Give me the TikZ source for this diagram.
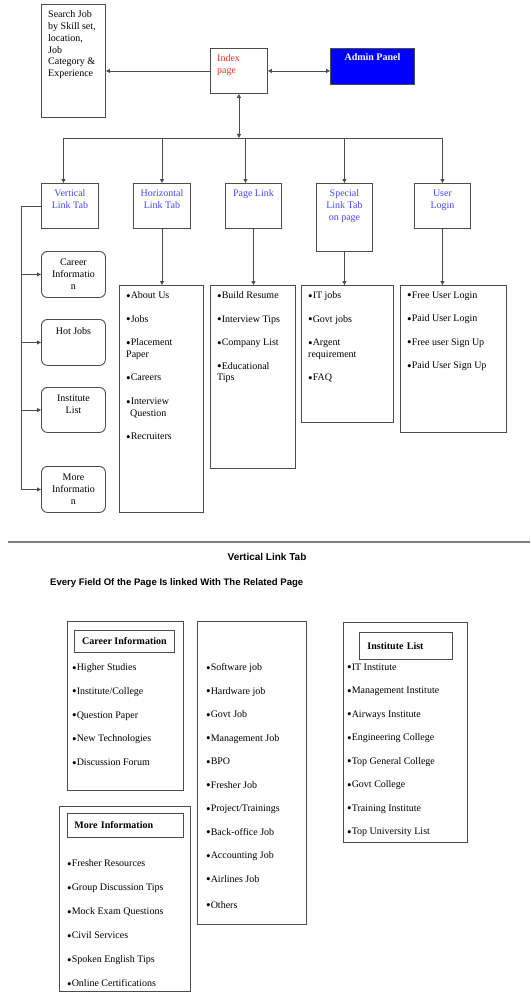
\documentclass[tikz,border=0pt]{standalone}
\usepackage{fontspec}
\setmainfont{Liberation Serif}
\setsansfont{Liberation Sans}
\usetikzlibrary{arrows.meta,positioning,calc}
\definecolor{linkblue}{RGB}{70,70,255}
\definecolor{indexred}{RGB}{255,40,40}
\definecolor{adminblue}{RGB}{0,0,255}
\definecolor{rulegray}{RGB}{128,128,128}
\newcommand{\itemgap}{11.7pt}
\newcommand{\bul}{\raisebox{-1.6pt}{\fontsize{13}{11.8}\selectfont\textbullet}}

\begin{document}
\begin{tikzpicture}[x=1pt, y=-1pt,
  box/.style={rectangle, draw=black!70, line width=0.9pt, anchor=north west, inner sep=0pt},
  rbox/.style={box, rounded corners=6pt},
  txt/.style={inner sep=0pt, anchor=north west, align=left, font=\fontsize{10}{11.8}\selectfont},
  ctxt/.style={txt, anchor=north, align=center},
  link/.style={ctxt, text=linkblue},
  head/.style={box, font=\fontsize{10}{11.8}\selectfont\bfseries},
  conn/.style={draw=black!70, line width=0.8pt},
  arr/.style={conn, -{Triangle[length=4pt,width=4pt]}},
  darr/.style={conn, {Triangle[length=4pt,width=4pt]}-{Triangle[length=4pt,width=4pt]}},
]
\useasboundingbox (0,0) rectangle (530,1006);

% top level
\node[box, minimum width=64pt, minimum height=113pt] (search) at (41,4) {};
\node[txt] (search-t) at ([shift={(7,6.5)}]search.north west) {Search Job\\by Skill set,\\location,\\Job\\Category \&\\Experience};
\node[box, minimum width=57pt, minimum height=45pt] (index) at (210,48) {};
\node[txt, text=indexred] (index-t) at ([shift={(7,6.5)}]index.north west) {Index\\page};
\node[box, fill=adminblue, minimum width=84pt, minimum height=36pt] (admin) at (330,48) {};
\node[ctxt, text=white, font=\fontsize{10}{11.8}\selectfont\bfseries] (admin-t) at ([shift={(0,5.5)}]admin.north) {Admin Panel};

% link tabs
\node[box, minimum width=57pt, minimum height=45pt] (vlt) at (41,183) {};
\node[link] (vlt-t) at ([shift={(0,6.5)}]vlt.north) {Vertical\\Link Tab};
\node[box, minimum width=57pt, minimum height=45pt] (hlt) at (133,183) {};
\node[link] (hlt-t) at ([shift={(0,6.5)}]hlt.north) {Horizontal\\Link Tab};
\node[box, minimum width=56pt, minimum height=45pt] (plt) at (225,183) {};
\node[link] (plt-t) at ([shift={(0,6.5)}]plt.north) {Page Link};
\node[box, minimum width=56pt, minimum height=68pt] (slt) at (316,183) {};
\node[link] (slt-t) at ([shift={(0,6.5)}]slt.north) {Special\\Link Tab\\on page};
\node[box, minimum width=56pt, minimum height=45pt] (ult) at (414,183) {};
\node[link] (ult-t) at ([shift={(0,6.5)}]ult.north) {User\\Login};

% vertical tab pages
\node[rbox, minimum width=64pt, minimum height=46pt] (career) at (41,251) {};
\node[ctxt] (career-t) at ([shift={(0,8)}]career.north) {Career\\Informatio\\n};
\node[rbox, minimum width=64pt, minimum height=46pt] (hot) at (41,319) {};
\node[ctxt] (hot-t) at ([shift={(0,8)}]hot.north) {Hot Jobs};
\node[rbox, minimum width=64pt, minimum height=45pt] (inst) at (41,387) {};
\node[ctxt] (inst-t) at ([shift={(0,8)}]inst.north) {Institute\\List};
\node[rbox, minimum width=64pt, minimum height=46pt] (more) at (41,466) {};
\node[ctxt] (more-t) at ([shift={(0,8)}]more.north) {More\\Informatio\\n};

% item lists
\node[box, minimum width=84pt, minimum height=227pt] (hlist) at (119,285) {};
\node[txt] (hlist-t) at ([shift={(7,6.5)}]hlist.north west) {\bul About Us\\[\itemgap]\bul Jobs\\[\itemgap]\bul Placement\\Paper\\[\itemgap]\bul Careers\\[\itemgap]\bul Interview\\\hspace{4pt}Question\\[\itemgap]\bul Recruiters};
\node[box, minimum width=85pt, minimum height=183pt] (plist) at (210,285) {};
\node[txt] (plist-t) at ([shift={(7,6.5)}]plist.north west) {\bul Build Resume\\[\itemgap]\bul Interview Tips\\[\itemgap]\bul Company List\\[\itemgap]\bul Educational\\Tips};
\node[box, minimum width=92pt, minimum height=137pt] (slist) at (301,285) {};
\node[txt] (slist-t) at ([shift={(7,6.5)}]slist.north west) {\bul IT jobs\\[\itemgap]\bul Govt jobs\\[\itemgap]\bul Argent\\requirement\\[\itemgap]\bul FAQ};
\node[box, minimum width=106pt, minimum height=147pt] (ulist) at (400,285) {};
\node[txt] (ulist-t) at ([shift={(7,6.5)}]ulist.north west) {\bul Free User Login\\[\itemgap]\bul Paid User Login\\[\itemgap]\bul Free user Sign Up\\[\itemgap]\bul Paid User Sign Up};

% connectors
\draw[arr] (index.west) -- (index.west -| search.east);
\draw[darr] (index.east) -- (index.east -| admin.west);
\coordinate (hub) at (index.south |- 0,138);
\coordinate (vin) at ([xshift=-6.5pt]vlt.north);
\coordinate (pin) at ([xshift=-8pt]plt.north);
\draw[darr] (index.south) -- (hub);
\draw[conn] (hub -| vin) -- (hub -| ult.north);
\draw[arr] (hub -| vin) -- (vin);
\draw[arr] (hub -| hlt.north) -- (hlt.north);
\draw[arr] (hub -| pin) -- (pin);
\draw[arr] (hub -| slt.north) -- (slt.north);
\draw[arr] (hub -| ult.north) -- (ult.north);

\draw[arr] (hlt.south) -- (hlt.south |- hlist.north);
\draw[arr] (plt.south) -- (plt.south |- plist.north);
\draw[arr] (slt.south) -- (slt.south |- slist.north);
\draw[arr] (ult.south) -- (ult.south |- ulist.north);

\coordinate (vbus) at ([xshift=-20pt]vlt.west);
\draw[conn] (vlt.west) -- (vbus);
\draw[arr] (vbus) |- (more.west);
\draw[arr] (vbus |- career.west) -- (career.west);
\draw[arr] (vbus |- hot.west) -- (hot.west);
\draw[arr] (vbus |- inst.west) -- (inst.west);

% lower half
\draw[rulegray, line width=2pt] (8,542) -- (530,542);
\node[inner sep=0pt, font=\sffamily\bfseries\fontsize{10}{12}\selectfont] (vhead) at (267,557) {Vertical Link Tab};
\node[inner sep=0pt, anchor=west, font=\sffamily\bfseries\fontsize{9.55}{11}\selectfont] (vnote) at (50,583) {Every Field Of the Page Is linked With The Related Page};

\node[box, minimum width=116pt, minimum height=169pt] (cinfo) at (67,621) {};
\node[head, minimum width=100pt, minimum height=22pt] (cinfo-h) at (74,630) {Career Information};
\node[txt] (cinfo-t) at ([shift={(5,42.5)}]cinfo.north west) {\bul Higher Studies\\[11.9pt]\bul Institute/College\\[11.9pt]\bul Question Paper\\[11.9pt]\bul New Technologies\\[11.9pt]\bul Discussion Forum};

\node[box, minimum width=109pt, minimum height=303pt] (jobs) at (197,621) {};
\node[txt] (jobs-t) at ([shift={(9,42.5)}]jobs.north west) {\bul Software job\\[\itemgap]\bul Hardware job\\[\itemgap]\bul Govt Job\\[\itemgap]\bul Management Job\\[\itemgap]\bul BPO\\[\itemgap]\bul Fresher Job\\[\itemgap]\bul Project/Trainings\\[\itemgap]\bul Back-office Job\\[\itemgap]\bul Accounting Job\\[\itemgap]\bul Airlines Job\\[14pt]\bul Others};

\node[box, minimum width=131pt, minimum height=185pt] (minfo) at (59,806) {};
\node[head, inner xsep=7pt, text width=102pt, align=left, minimum height=24pt] (minfo-h) at (67,813) {More Information};
\node[txt] (minfo-t) at ([shift={(8,53.5)}]minfo.north west) {\bul Fresher Resources\\[12.2pt]\bul Group Discussion Tips\\[12.2pt]\bul Mock Exam Questions\\[12.2pt]\bul Civil Services\\[12.2pt]\bul Spoken English Tips\\[12.2pt]\bul Online Certifications};

\node[box, minimum width=124pt, minimum height=220pt] (ilist) at (343,622) {};
\node[head, inner xsep=8pt, text width=77pt, align=left, minimum height=27pt] (ilist-h) at (359,632) {Institute List};
\node[txt] (ilist-t) at ([shift={(4,41.5)}]ilist.north west) {\bul IT Institute\\[\itemgap]\bul Management Institute\\[\itemgap]\bul Airways Institute\\[\itemgap]\bul Engineering College\\[\itemgap]\bul Top General College\\[\itemgap]\bul Govt College\\[\itemgap]\bul Training Institute\\[\itemgap]\bul Top University List};
\end{tikzpicture}
\end{document}
